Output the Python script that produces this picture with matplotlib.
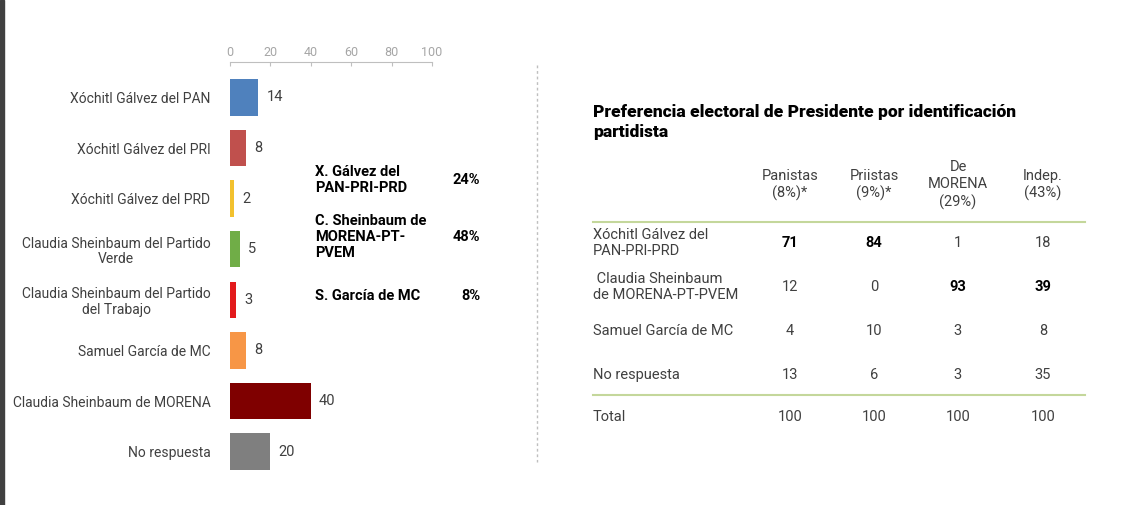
import matplotlib
matplotlib.use("Agg")
import matplotlib.pyplot as plt
from matplotlib.lines import Line2D
from matplotlib.patches import Rectangle

plt.rcParams["font.family"] = "Roboto"

# left bar chart
labels = ["Xóchitl Gálvez del PAN", "Xóchitl Gálvez del PRI", "Xóchitl Gálvez del PRD",
          "Claudia Sheinbaum del Partido\nVerde", "Claudia Sheinbaum del Partido\ndel Trabajo",
          "Samuel García de MC", "Claudia Sheinbaum de MORENA", "No respuesta"]
values = [14, 8, 2, 5, 3, 8, 40, 20]
colors = ["#4f81bd", "#c0504d", "#f2c12e", "#70ad47", "#e31a1c", "#f79646", "#7f0000", "#7f7f7f"]
ticks = [0, 20, 40, 60, 80, 100]

# summary block
summary_names = ["X. Gálvez del\nPAN-PRI-PRD", "C. Sheinbaum de\nMORENA-PT-\nPVEM", "S. García de MC"]
summary_pcts = ["24%", "48%", "8%"]

# right table
title = "Preferencia electoral de Presidente por identificación\npartidista"
col_heads = ["Panistas\n(8%)*", "Priistas\n(9%)*", "De\nMORENA\n(29%)", "Indep.\n(43%)"]
row_names = ["Xóchitl Gálvez del\nPAN-PRI-PRD", " Claudia Sheinbaum\nde MORENA-PT-PVEM",
             "Samuel García de MC", "No respuesta", "Total"]
table = [[71, 84, 1, 18], [12, 0, 93, 39], [4, 10, 3, 8], [13, 6, 3, 35], [100, 100, 100, 100]]
bold = [[True, True, False, False], [False, False, True, True],
        [False] * 4, [False] * 4, [False] * 4]

W, H = 1127, 505
fig = plt.figure(figsize=(W / 100, H / 100), dpi=100)
fig.patch.set_facecolor("white")

def fx(px):
    return px / W

def fy(py):
    return 1 - py / H

ax = fig.add_axes([fx(230), fy(477), fx(432) - fx(230), (477 - 62) / H])
y = list(range(len(values)))
ax.barh(y, values, height=0.72, color=colors)
ax.set_xlim(0, 100)
ax.set_ylim(7.5, -0.7)
ax.xaxis.tick_top()
ax.set_xticks(ticks)
ax.tick_params(axis="x", colors="#bfbfbf", labelcolor="#a6a6a6", labelsize=9, length=3, direction="in", pad=2)
ax.set_yticks(y)
ax.set_yticklabels(labels, fontsize=10, color="#404040", linespacing=1.15, multialignment="center")
ax.tick_params(axis="y", length=0, pad=14)
for s in ["right", "bottom", "left"]:
    ax.spines[s].set_visible(False)
ax.spines["top"].set_color("#bfbfbf")
for yi, v in zip(y, values):
    ax.text(v + 4, yi, str(v), va="center", ha="left", fontsize=10.5, color="#404040")

# summary
for name, pct, py in zip(summary_names, summary_pcts, [180, 237, 296]):
    fig.text(fx(315), fy(py), name, fontsize=10.5, fontweight="bold", va="center", ha="left", linespacing=1.15)
    fig.text(fx(480), fy(py), pct, fontsize=10.5, fontweight="bold", va="center", ha="right")

# divider
fig.add_artist(Line2D([fx(537)] * 2, [fy(65), fy(462)], color="#bfbfbf", lw=1, ls=(0, (2, 2))))
# left border strip
fig.add_artist(Rectangle((0, 0), fx(4), 1, color="#404040", transform=fig.transFigure))

# table
fig.text(fx(593), fy(122), title, fontsize=12.5, fontweight="heavy", va="center", ha="left", linespacing=1.25)
col_x = [790, 874, 958, 1043]
for cx, head in zip(col_x, col_heads):
    fig.text(fx(cx), fy(185), head, fontsize=10.5, color="#404040", ha="center", va="center", linespacing=1.3)
row_y = [243, 287, 331, 375, 417]
for ry, name, vals, bl in zip(row_y, row_names, table, bold):
    fig.text(fx(593), fy(ry), name, fontsize=10.5, color="#404040", ha="left", va="center", linespacing=1.25)
    for cx, v, b in zip(col_x, vals, bl):
        fig.text(fx(cx), fy(ry), str(v), fontsize=10.5, ha="center", va="center",
                 color="black" if b else "#404040", fontweight="bold" if b else "normal")
for ly in [222, 395]:
    fig.add_artist(Line2D([fx(593), fx(1085)], [fy(ly)] * 2, color="#c4d79b", lw=1.5))

fig.savefig("out.png", dpi=100)
